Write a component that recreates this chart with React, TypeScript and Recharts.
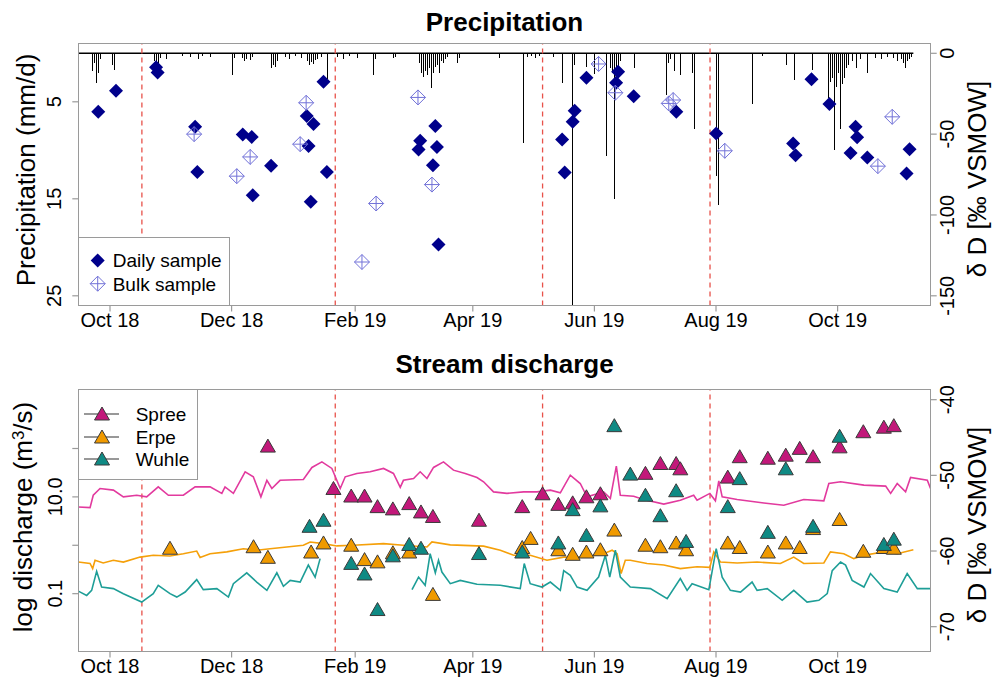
import React from "react";
import {
  ComposedChart,
  Bar,
  Line,
  Scatter,
  XAxis,
  YAxis,
  ReferenceLine,
} from "recharts";

const FONT = '"Liberation Sans", Arial, Helvetica, sans-serif';

// x values are days since 2018-10-01
const X_DOMAIN = [-15.9, 411.7];
const MONTH_TICKS = [0, 61, 123, 182, 243, 304, 365];
const MONTH_LABELS = ["Oct 18", "Dec 18", "Feb 19", "Apr 19", "Jun 19", "Aug 19", "Oct 19"];
const BREAK_DAYS = [16, 113, 217, 301];

// daily precipitation (mm/d)
const RAIN_DAYS = [
  -9, -8, -7, -6, -5,
  1, 2,
  22, 23, 24, 25, 28,
  36, 40, 44, 46, 50,
  61, 62,
  66, 67, 68, 70, 71,
  81, 82, 83, 84,
  88, 90, 93, 96,
  99, 100, 101, 102, 103, 104,
  106, 109,
  114, 117, 120, 124,
  132, 133,
  142, 143,
  155, 156, 157, 158, 159, 160, 161, 162, 163, 164, 165, 166, 167, 168, 169,
  174, 175,
  195,
  207, 209, 211, 213, 215,
  222, 227,
  232, 233,
  239, 243,
  249, 251, 252, 253, 254, 255, 256,
  263,
  279, 280, 281, 283, 286,
  292, 293,
  304, 305,
  322, 327,
  339, 343, 352,
  360, 361, 362, 363, 364, 365, 366, 367, 368, 369, 370,
  372, 374, 376,
  380,
  384, 387, 390, 393, 395, 397, 398, 399, 400, 401, 402,
];
const RAIN_MM = [
  1.8, 1.0, 3.1, 2.0, 0.6,
  1.2, 1.7,
  0.8, 1.2, 1.0, 0.5, 0.6,
  0.3, 0.4, 0.6, 0.3, 0.4,
  2.2, 0.5,
  0.5, 0.8, 0.6, 0.7, 0.4,
  1.5, 1.2, 1.4, 0.8,
  0.4, 0.6, 0.3, 0.5,
  0.8, 1.2, 0.9, 1.1, 0.7, 0.6,
  0.4, 2.7,
  0.4, 0.6, 0.3, 0.5,
  2.2, 0.6,
  0.5, 0.4,
  1.0, 2.0, 2.4, 1.8, 2.2, 1.5, 3.6, 2.0, 1.4, 1.2, 2.0, 0.8, 1.0, 0.6, 0.4,
  1.0, 0.5,
  0.5,
  9.2, 0.4, 0.3, 0.5, 0.3,
  0.4, 3.1,
  26, 1.2,
  1.4, 2.1,
  10.6, 1.5, 2.0, 15.0, 1.8, 1.6, 0.8,
  1.5,
  4.3, 1.0, 0.6, 1.8, 2.2,
  2.0, 7.8,
  12.7, 15.6,
  5.2, 0.3,
  1.2, 2.8, 1.7,
  4.6, 3.0, 2.5, 10.0, 3.5, 2.0, 7.8, 3.2, 2.5, 1.5, 1.2,
  0.8, 1.5, 0.6,
  2.0,
  0.5, 0.6, 0.4, 0.5, 0.8, 0.6, 1.0, 1.5, 0.8, 0.6, 0.4,
];

// precipitation isotopes (δD ‰)
const DAILY_DAYS = [
  -5.9, 3.0, 23.1, 23.9, 42.7, 43.8, 66.6, 71.1, 71.6, 80.8,
  98.7, 99.6, 100.7, 102.1, 107.1, 108.8, 154.8, 155.6, 162.0, 163.2,
  164.0, 164.8, 226.8, 228.1, 232.1, 233.1, 239.0, 253.9, 254.9, 262.7,
  284.1, 304.1, 342.7, 343.9, 351.9, 360.9, 371.5, 374.0, 374.8, 379.9,
  399.6, 401.1,
];
const DAILY_D = [
  -36.2, -23.2, -8.7, -11.8, -45.5, -73.4, -50.2, -51.7, -87.8, -69.6,
  -38.8, -57.4, -91.9, -43.8, -17.6, -73.4, -59.5, -54.1, -69.2, -45.0,
  -57.9, -118.2, -53.3, -73.7, -42.4, -35.6, -15.1, -18.2, -11.4, -26.5,
  -36.2, -49.6, -55.8, -63.0, -16.1, -31.4, -61.6, -45.5, -52.0, -64.4,
  -74.3, -59.3,
];
const BULK_DAYS = [42.2, 63.6, 70.3, 95.4, 98.4, 126.4, 133.5, 154.5, 161.5, 245.1, 253.5, 280.3, 282.5, 308.4, 385.2, 392.4];
const BULK_D = [-50.0, -76.0, -64.1, -56.2, -30.6, -129.1, -92.9, -27.3, -81.2, -6.6, -24.4, -31.0, -28.9, -60.3, -69.8, -39.3];

// discharge (m3/s)
const SPREE_Q_DAYS = [
  -15.9, -10.0, -8.4, -5.0, 1.7, 6.7, 13.4, 18.4, 24.2, 29.3,
  36.8, 42.7, 50.2, 56.1, 57.7, 61.9, 67.8, 71.9, 75.7, 78.7,
  81.2, 85.3, 97.0, 101.3, 106.3, 111.3, 115.5, 118.0, 123.8, 130.5,
  137.2, 142.2, 145.6, 147.2, 152.3, 155.6, 159.0, 162.3, 167.3, 172.3,
  178.2, 184.1, 187.4, 192.4, 199.1, 207.5, 214.2, 220.9, 225.9, 230.9,
  235.9, 239.3, 247.6, 251.0, 254.0, 256.0, 262.7, 267.7, 277.8, 286.1,
  292.8, 294.5, 300.9, 303.7, 305.4, 307.1, 314.6, 328.0, 338.0, 348.0,
  358.1, 360.6, 366.5, 378.2, 389.1, 391.6, 394.9, 399.1, 401.6, 410.0,
  411.6,
];
const SPREE_Q = [
  6.2, 6.0, 10.8, 14.9, 13.8, 10.0, 10.8, 10.0, 16.1, 10.8,
  10.8, 16.1, 16.1, 11.8, 16.1, 11.8, 33, 26, 10.0, 22,
  14.9, 22, 22.9, 40.6, 53, 38.7, 14.9, 26, 30.5, 33,
  38.7, 30.5, 15.7, 22, 24, 33, 24, 40.6, 53, 35.7,
  30.5, 25.2, 20.5, 12.7, 11.8, 12.7, 12.7, 13.8, 12.1, 28.1,
  18.9, 10.0, 12.7, 9.3, 43.2, 10.8, 10.3, 8.8, 7.1, 8.5,
  10.8, 8.5, 11.8, 8.3, 21.4, 10.0, 8.8, 7.5, 6.7, 8.8,
  8.3, 18.9, 20.5, 17.5, 16.7, 11.8, 18.9, 12.7, 25.2, 22,
  14.9,
];
const ERPE_Q_DAYS = [
  -15.9, -10.0, -8.7, -7.5, -3.4, 1.7, 6.7, 15.1, 21.7, 30.1,
  36.8, 43.5, 45.2, 50.2, 58.6, 66.9, 73.6, 80.3, 88.7, 97.0,
  100.4, 107.1, 113.8, 122.1, 137.2, 147.2, 159.0, 161.5, 170.7, 187.4,
  195.8, 202.5, 210.8, 219.2, 227.6, 237.6, 247.6, 251.9, 254.4, 256.4,
  258.5, 261.0, 269.4, 277.8, 286.1, 294.5, 300.9, 302.9, 306.2, 314.6,
  324.6, 336.3, 343.0, 348.0, 358.1, 361.4, 368.1, 373.1, 378.2, 388.2,
  394.9, 403.0,
];
const ERPE_Q = [
  0.45, 0.42, 0.33, 0.49, 0.43, 0.49, 0.45, 0.57, 0.62, 0.60,
  0.67, 0.76, 0.56, 0.67, 0.73, 0.85, 0.79, 0.85, 0.92, 1.0,
  1.17, 1.08, 0.97, 1.0, 1.08, 1.0, 0.92, 1.17, 1.02, 0.96,
  0.79, 0.62, 0.62, 0.49, 0.57, 0.57, 0.67, 0.79, 0.67, 0.26,
  0.49, 0.49, 0.42, 0.39, 0.33, 0.36, 0.35, 0.73, 0.45, 0.43,
  0.45, 0.42, 0.57, 0.42, 0.43, 0.73, 0.67, 0.53, 0.62, 0.73,
  0.67, 0.81,
];
const WUHLE_Q_DAYS = [
  -15.9, -11.7, -9.2, -6.7, -4.2, 1.7, 6.7, 15.9, 21.7, 24.2,
  30.1, 33.5, 37.7, 43.5, 46.8, 53.6, 59.4, 61.9, 68.6, 73.6,
  78.7, 83.7, 87.0, 90.4, 95.4, 99.5, 102.9, 105.4, 128, 151.5,
  154.8, 158.1, 160.6, 163.2, 164.8, 166.5, 170.7, 175.7, 184.1, 195.8,
  205.8, 207.8, 210.8, 216.7, 220.9, 225.9, 227.6, 230.9, 234.3, 239.3,
  245.1, 248.5, 250.7, 253.5, 256.0, 261.0, 271.1, 279.5, 286.1, 289.5,
  292.0, 300.4, 304.1, 307.1, 311.2, 316.3, 322.1, 324.6, 329.7, 337.2,
  343.0, 349.7, 355.6, 359.8, 362.3, 366.5, 369.0, 372.3, 378.2, 381.5,
  388.2, 394.9, 399.9, 405.0, 411.6,
];
const WUHLE_Q = [
  0.113, 0.092, 0.117, 0.29, 0.137, 0.127, 0.10, 0.067, 0.10, 0.149,
  0.10, 0.085, 0.108, 0.195, 0.121, 0.127, 0.085, 0.161, 0.27, 0.174,
  0.117, 0.27, 0.142, 0.188, 0.174, 0.39, 0.22, 0.53, null, 0.121,
  0.22, 0.149, 0.67, 0.27, 0.49, 0.28, 0.161, 0.188, 0.156, 0.149,
  0.127, 0.42, 0.161, 0.137, 0.174, 0.117, 0.30, 0.24, 0.137, 0.117,
  0.22, 0.62, 0.22, 0.79, 0.22, 0.137, 0.127, 0.079, 0.205, 0.117,
  0.161, 0.121, 0.85, 0.22, 0.117, 0.108, 0.174, 0.117, 0.127, 0.073,
  0.117, 0.067, 0.073, 0.10, 0.30, 0.45, 0.39, 0.188, 0.137, 0.26,
  0.127, 0.108, 0.26, 0.127, 0.127,
];

// stream water isotopes (δD ‰)
const SPREE_ISO_DAYS = [
  79.2, 112.1, 121.0, 127.7, 134.2, 141.9, 150.1, 156.0, 162.0, 185.1,
  206.8, 217.0, 224.9, 232.1, 239.0, 246.0, 268.6, 276.1, 284.0, 286.1,
  309.9, 315.9, 330.0, 339.0, 346.0, 352.7, 366.0, 377.9, 388.2, 393.2,
];
const SPREE_ISO = [
  -46.2, -51.8, -52.8, -52.8, -54.2, -54.5, -53.8, -54.9, -55.5, -56.0,
  -54.2, -52.5, -53.9, -53.7, -52.9, -52.5, -49.8, -48.5, -48.5, -49.2,
  -50.3, -47.6, -47.8, -47.4, -46.5, -47.6, -46.3, -44.3, -43.7, -43.5,
];
const ERPE_ISO_DAYS = [
  30.1, 72, 79.2, 100.9, 107.1, 121.0, 127.7, 134.2, 141.9, 150.1,
  162.0, 206.8, 211.0, 224.9, 232.1, 239.0, 246.0, 253.0, 268.6, 276.1,
  284.0, 289.0, 309.9, 315.9, 330.0, 339.0, 346.0, 352.7, 366.0, 377.9,
  388.2, 393.2,
];
const ERPE_ISO = [
  -59.7, -59.5, -60.9, -60.2, -59.0, -59.3, -61.2, -61.5, -60.3, -60.2,
  -65.8, -59.6, -58.4, -59.9, -60.5, -60.2, -59.9, -57.3, -59.3, -59.5,
  -59.0, -59.9, -59.0, -59.6, -60.2, -59.0, -59.6, -57.1, -55.9, -60.1,
  -59.6, -59.7,
];
const WUHLE_ISO_DAYS = [
  100.1, 107.1, 121.0, 127.7, 134.2, 141.9, 150.1, 156.0, 185.1, 206.8,
  224.9, 232.1, 239.0, 246.0, 253.0, 261.0, 268.6, 276.1, 284.0, 289.0,
  309.9, 315.9, 330.0, 339.0, 352.7, 366.0, 388.2, 393.2,
];
const WUHLE_ISO = [
  -56.8, -56.0, -61.7, -63.1, -67.8, -60.7, -59.2, -59.7, -60.4, -60.2,
  -59.0, -54.6, -58.0, -54.1, -43.5, -49.9, -52.7, -55.4, -52.1, -58.8,
  -54.2, -50.5, -57.6, -49.2, -56.8, -44.9, -59.2, -58.5,
];

const COLORS = {
  daily: "#00008B",
  bulk: "#7272D8",
  breakLine: "#E8524A",
  frame: "#9a9a9a",
  spreeLine: "#E23A9E",
  spreeTri: "#C2187A",
  erpeLine: "#F5A00A",
  erpeTri: "#F09A00",
  wuhleLine: "#1E9E97",
  wuhleTri: "#0F8A84",
};

const rain = RAIN_DAYS.map((day, i) => ({ day, mm: RAIN_MM[i] }));
const pairs = (days: number[], vals: (number | null)[], key: string) =>
  days.map((day, i) => ({ day, [key]: vals[i] }));

const monthLabel = (v: number) => MONTH_LABELS[MONTH_TICKS.indexOf(v)] ?? "";

const rotTick = (cx: number, fmt: (v: number) => string) => (props: any) => {
  const { y, payload } = props;
  const s = fmt(payload.value);
  return (
    <text
      x={cx}
      y={y}
      transform={`rotate(-90 ${cx} ${y})`}
      textAnchor="middle"
      dominantBaseline="central"
      fontSize={20}
      fill="#000"
      fontFamily={FONT}
    >
      {s}
    </text>
  );
};

// precipitation drawn as thin hanging sticks, like R's type = "h"
const RainStick = (p: any) => {
  const { x, y, width, height } = p;
  if (x == null || y == null || !height) return <g />;
  const cx = Math.round(x + width / 2) + 0.5;
  return (
    <line
      x1={cx}
      x2={cx}
      y1={Math.min(y, y + height)}
      y2={Math.max(y, y + height)}
      stroke="#000"
      strokeWidth={1.2}
      shapeRendering="crispEdges"
    />
  );
};

const Diamond = (p: any) => (
  <polygon
    points={`${p.cx},${p.cy - 7} ${p.cx + 7},${p.cy} ${p.cx},${p.cy + 7} ${p.cx - 7},${p.cy}`}
    fill={COLORS.daily}
  />
);

const DiamondPlus = (p: any) => (
  <g stroke={COLORS.bulk} strokeWidth={1} fill="none">
    <polygon
      points={`${p.cx},${p.cy - 7.5} ${p.cx + 7.5},${p.cy} ${p.cx},${p.cy + 7.5} ${p.cx - 7.5},${p.cy}`}
    />
    <line x1={p.cx - 7.5} x2={p.cx + 7.5} y1={p.cy} y2={p.cy} />
    <line x1={p.cx} x2={p.cx} y1={p.cy - 7.5} y2={p.cy + 7.5} />
  </g>
);

const triangle = (fill: string) => (p: any) => (
  <polygon
    points={`${p.cx},${p.cy - 7.5} ${p.cx + 7.5},${p.cy + 5.5} ${p.cx - 7.5},${p.cy + 5.5}`}
    fill={fill}
    stroke="#3a3a3a"
    strokeWidth={1}
  />
);

const PLOT_LEFT = 78.3;
const PLOT_RIGHT = 930.7;

function Frame({ top, bottom }: { top: number; bottom: number }) {
  return (
    <div
      style={{
        position: "absolute",
        left: PLOT_LEFT - 0.6,
        top: top - 0.6,
        width: PLOT_RIGHT - PLOT_LEFT + 1.2,
        height: bottom - top + 1.2,
        border: `1.3px solid ${COLORS.frame}`,
        boxSizing: "border-box",
        pointerEvents: "none",
      }}
    />
  );
}

function Txt({
  x, y, size, bold, rotate, children,
}: { x: number; y: number; size: number; bold?: boolean; rotate?: boolean; children: React.ReactNode }) {
  return (
    <div
      style={{
        position: "absolute",
        left: x,
        top: y,
        transform: `translate(-50%, -50%)${rotate ? " rotate(-90deg)" : ""}`,
        fontSize: size,
        fontWeight: bold ? 700 : 400,
        lineHeight: 1,
        whiteSpace: "nowrap",
        color: "#000",
      }}
    >
      {children}
    </div>
  );
}

const axisTickLine = { stroke: COLORS.frame, strokeWidth: 1.2 };

function PrecipPanel() {
  return (
    <div style={{ position: "absolute", left: 0, top: 0, width: 992, height: 340 }}>
      <ComposedChart
        width={992}
        height={340}
        data={rain}
        margin={{ top: 43.6, right: 21.3, bottom: 4.5, left: 28.3 }}
      >
        <XAxis
          dataKey="day"
          type="number"
          domain={X_DOMAIN}
          allowDataOverflow
          ticks={MONTH_TICKS}
          interval={0}
          tickFormatter={monthLabel}
          axisLine={false}
          tickLine={axisTickLine}
          tickSize={6}
          tickMargin={1}
          height={30}
          tick={{ fill: "#000", fontSize: 20, fontFamily: FONT }}
        />
        <YAxis
          yAxisId="p"
          orientation="left"
          width={50}
          domain={[-1, 26]}
          reversed
          allowDataOverflow
          ticks={[5, 15, 25]}
          interval={0}
          axisLine={false}
          tickLine={axisTickLine}
          tickSize={6}
          tick={rotTick(54, (v) => String(v))}
        />
        <YAxis
          yAxisId="d"
          orientation="right"
          width={40}
          domain={[-156, 6]}
          allowDataOverflow
          ticks={[0, -50, -100, -150]}
          interval={0}
          axisLine={false}
          tickLine={axisTickLine}
          tickSize={6}
          tick={rotTick(947.5, (v) => String(v))}
        />
        <Bar yAxisId="p" dataKey="mm" barSize={2} shape={RainStick} isAnimationActive={false} />
        <ReferenceLine
          yAxisId="p"
          segment={[{ x: -15.9, y: 0 }, { x: 403, y: 0 }]}
          stroke="#000"
          strokeWidth={1.6}
        />
        {BREAK_DAYS.map((d) => (
          <ReferenceLine
            key={d}
            yAxisId="p"
            x={d}
            stroke={COLORS.breakLine}
            strokeWidth={1.3}
            strokeDasharray="5 4"
          />
        ))}
        <Scatter
          yAxisId="d"
          data={pairs(DAILY_DAYS, DAILY_D, "d")}
          dataKey="d"
          shape={Diamond}
          isAnimationActive={false}
        />
        <Scatter
          yAxisId="d"
          data={pairs(BULK_DAYS, BULK_D, "d")}
          dataKey="d"
          shape={DiamondPlus}
          isAnimationActive={false}
        />
      </ComposedChart>
      <Frame top={43.6} bottom={305.5} />
      <Txt x={504.5} y={21.5} size={26} bold>Precipitation</Txt>
      <Txt x={26} y={170} size={26} rotate>Precipitation (mm/d)</Txt>
      <Txt x={977} y={178.5} size={26} rotate>δ D [‰ VSMOW]</Txt>
      <div
        style={{
          position: "absolute",
          left: PLOT_LEFT - 0.6,
          top: 237,
          width: 152,
          height: 69.1,
          border: `1.3px solid ${COLORS.frame}`,
          boxSizing: "border-box",
          background: "#fff",
          fontSize: 19,
        }}
      >
        <svg width={40} height={68} style={{ position: "absolute", left: 0, top: 0 }}>
          {Diamond({ cx: 18.7, cy: 22.4 })}
          {DiamondPlus({ cx: 18.7, cy: 45.7 })}
        </svg>
        <div style={{ position: "absolute", left: 34, top: 22.4, transform: "translateY(-50%)", lineHeight: 1 }}>
          Daily sample
        </div>
        <div style={{ position: "absolute", left: 34, top: 45.7, transform: "translateY(-50%)", lineHeight: 1 }}>
          Bulk sample
        </div>
      </div>
    </div>
  );
}

const LEGEND_RIVERS = [
  { name: "Spree", line: COLORS.spreeLine, tri: COLORS.spreeTri },
  { name: "Erpe", line: COLORS.erpeLine, tri: COLORS.erpeTri },
  { name: "Wuhle", line: COLORS.wuhleLine, tri: COLORS.wuhleTri },
];

function StreamPanel() {
  return (
    <div style={{ position: "absolute", left: 0, top: 340, width: 992, height: 338 }}>
      <ComposedChart
        width={992}
        height={338}
        margin={{ top: 50, right: 21.3, bottom: 0.5, left: 28.3 }}
      >
        <XAxis
          dataKey="day"
          type="number"
          domain={X_DOMAIN}
          allowDataOverflow
          ticks={MONTH_TICKS}
          interval={0}
          tickFormatter={monthLabel}
          axisLine={false}
          tickLine={axisTickLine}
          tickSize={6}
          tickMargin={1}
          height={26}
          tick={{ fill: "#000", fontSize: 20, fontFamily: FONT }}
        />
        <YAxis
          yAxisId="q"
          orientation="left"
          width={50}
          scale="log"
          domain={[0.00638, 1618]}
          allowDataOverflow
          ticks={[0.1, 1, 10, 100]}
          interval={0}
          axisLine={false}
          tickLine={axisTickLine}
          tickSize={6}
          tick={rotTick(55, (v) => (v === 10 ? "10.0" : v === 0.1 ? "0.1" : ""))}
        />
        <YAxis
          yAxisId="i"
          orientation="right"
          width={40}
          domain={[-73.28, -38.72]}
          allowDataOverflow
          ticks={[-40, -50, -60, -70]}
          interval={0}
          axisLine={false}
          tickLine={axisTickLine}
          tickSize={6}
          tick={rotTick(947.5, (v) => String(v))}
        />
        {BREAK_DAYS.map((d) => (
          <ReferenceLine
            key={d}
            yAxisId="i"
            x={d}
            stroke={COLORS.breakLine}
            strokeWidth={1.3}
            strokeDasharray="5 4"
          />
        ))}
        <Line
          yAxisId="q"
          data={pairs(SPREE_Q_DAYS, SPREE_Q, "q")}
          dataKey="q"
          stroke={COLORS.spreeLine}
          strokeWidth={1.6}
          dot={false}
          type="linear"
          isAnimationActive={false}
        />
        <Line
          yAxisId="q"
          data={pairs(ERPE_Q_DAYS, ERPE_Q, "q")}
          dataKey="q"
          stroke={COLORS.erpeLine}
          strokeWidth={1.6}
          dot={false}
          type="linear"
          isAnimationActive={false}
        />
        <Line
          yAxisId="q"
          data={pairs(WUHLE_Q_DAYS, WUHLE_Q, "q")}
          dataKey="q"
          stroke={COLORS.wuhleLine}
          strokeWidth={1.6}
          dot={false}
          type="linear"
          isAnimationActive={false}
        />
        <Scatter
          yAxisId="i"
          data={pairs(SPREE_ISO_DAYS, SPREE_ISO, "d")}
          dataKey="d"
          shape={triangle(COLORS.spreeTri)}
          isAnimationActive={false}
        />
        <Scatter
          yAxisId="i"
          data={pairs(ERPE_ISO_DAYS, ERPE_ISO, "d")}
          dataKey="d"
          shape={triangle(COLORS.erpeTri)}
          isAnimationActive={false}
        />
        <Scatter
          yAxisId="i"
          data={pairs(WUHLE_ISO_DAYS, WUHLE_ISO, "d")}
          dataKey="d"
          shape={triangle(COLORS.wuhleTri)}
          isAnimationActive={false}
        />
      </ComposedChart>
      <Frame top={50} bottom={311.5} />
      <Txt x={504.5} y={24} size={26} bold>Stream discharge</Txt>
      <Txt x={23} y={177} size={26} rotate>
        log discharge (m<sup style={{ fontSize: "0.65em", verticalAlign: "0.45em", lineHeight: 0 }}>3</sup>/s)
      </Txt>
      <Txt x={977} y={184.5} size={26} rotate>δ D [‰ VSMOW]</Txt>
      <div
        style={{
          position: "absolute",
          left: PLOT_LEFT - 0.6,
          top: 49.4,
          width: 120.5,
          height: 90.6,
          border: `1.3px solid ${COLORS.frame}`,
          boxSizing: "border-box",
          background: "#fff",
          fontSize: 19,
        }}
      >
        {LEGEND_RIVERS.map((r, i) => {
          const cy = 23.3 + i * 22.9;
          return (
            <React.Fragment key={r.name}>
              <svg width={50} height={14} style={{ position: "absolute", left: 0, top: cy - 7 }}>
                <line x1={5} x2={40} y1={7} y2={7} stroke="#333" strokeWidth={1.2} />
                {triangle(r.tri)({ cx: 23, cy: 7.5 })}
              </svg>
              <div style={{ position: "absolute", left: 57, top: cy, transform: "translateY(-50%)", lineHeight: 1 }}>
                {r.name}
              </div>
            </React.Fragment>
          );
        })}
      </div>
    </div>
  );
}

export default function App() {
  return (
    <div style={{ position: "relative", width: 992, height: 678, background: "#fff", fontFamily: FONT }}>
      <style>{"body{margin:0}"}</style>
      <PrecipPanel />
      <StreamPanel />
    </div>
  );
}
